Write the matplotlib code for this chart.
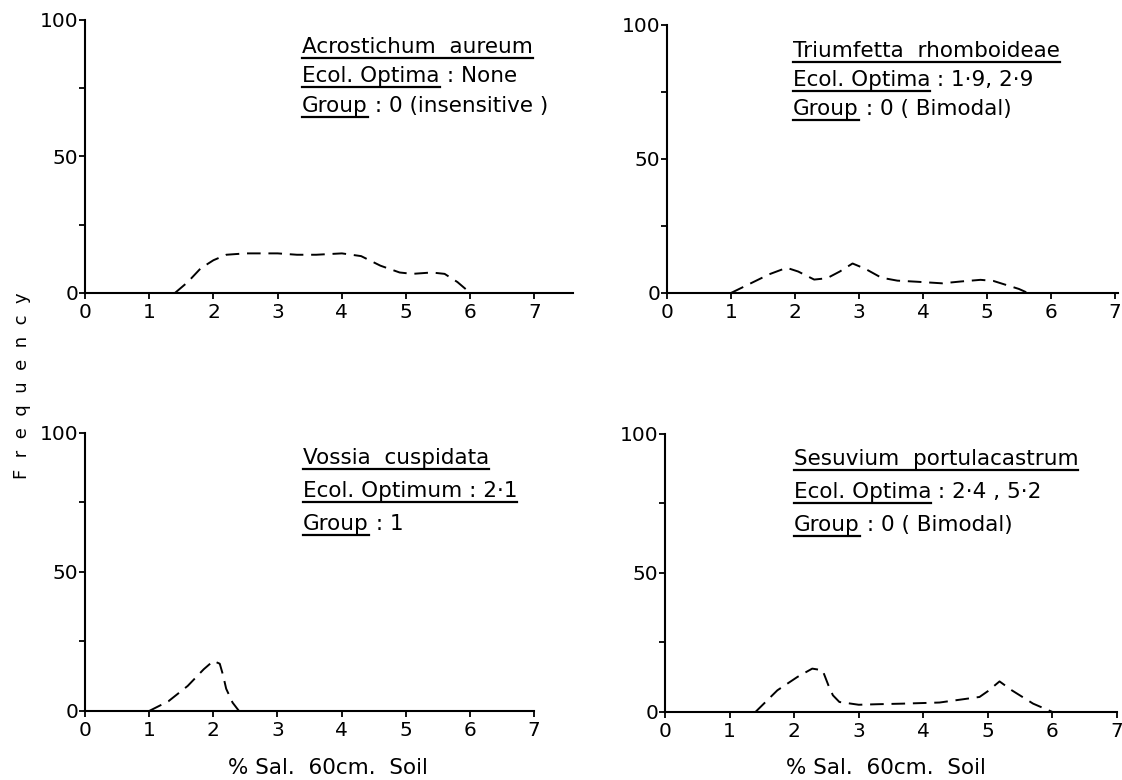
import matplotlib
matplotlib.use("Agg")
import matplotlib.pyplot as plt
from matplotlib.lines import Line2D

# Frequency vs % salinity of 60 cm soil, four species
acro_x = [1.4, 1.6, 1.8, 2.0, 2.2, 2.5, 2.8, 3.0, 3.3, 3.6, 4.0, 4.3, 4.6, 4.9, 5.1, 5.4, 5.6, 5.8, 5.95, 6.0]
acro_y = [0, 4, 9, 12, 14, 14.5, 14.5, 14.5, 14, 14, 14.5, 13.5, 10, 7.5, 7, 7.5, 7, 4, 1, 0]

trium_x = [1.0, 1.3, 1.6, 1.87, 2.05, 2.3, 2.5, 2.7, 2.9, 3.1, 3.35, 3.6, 3.9, 4.3, 4.6, 4.9, 5.1, 5.3, 5.5, 5.64]
trium_y = [0, 3.5, 7, 9.4, 8, 5, 5.5, 8, 11, 9, 5.7, 4.6, 4.2, 3.6, 4.3, 4.9, 4.5, 3, 1.5, 0]

vossia_x = [1.0, 1.3, 1.6, 1.85, 2.0, 2.1, 2.15, 2.2, 2.3, 2.4]
vossia_y = [0, 3.5, 9, 15, 18, 17, 13, 8, 3, 0]

sesu_x = [1.4, 1.74, 2.05, 2.28, 2.44, 2.53, 2.6, 2.7, 3.0, 3.3, 3.68, 4.25, 4.87, 5.0, 5.18, 5.37, 5.7, 6.0]
sesu_y = [0, 7.8, 12.6, 15.6, 15, 9.6, 6, 3.6, 2.6, 2.8, 3, 3.4, 5.4, 7.5, 11, 7.8, 3, 0]

x_ticks = [0, 1, 2, 3, 4, 5, 6, 7]
y_ticks = [0, 50, 100]
y_minor = [25, 75]

# (title, underlined part of line 2, rest of line 2, rest of line 3)
labels = [
    ("Acrostichum  aureum", "Ecol. Optima", " : None", " : 0 (insensitive )"),
    ("Triumfetta  rhomboideae", "Ecol. Optima", " : 1·9, 2·9", " : 0 ( Bimodal)"),
    ("Vossia  cuspidata", "Ecol. Optimum : 2·1", "", " : 1"),
    ("Sesuvium  portulacastrum", "Ecol. Optima", " : 2·4 , 5·2", " : 0 ( Bimodal)"),
]

plt.rcParams['font.family'] = ['DejaVu Sans']
FS = 15.5

fig = plt.figure(figsize=(11.22, 7.8), dpi=100)

rects = [
    [0.0758, 0.6244, 0.4349, 0.3500],
    [0.5945, 0.6244, 0.4020, 0.3436],
    [0.0758, 0.0885, 0.4002, 0.3564],
    [0.5927, 0.0872, 0.4029, 0.3564],
]
xmax = [7.6, 7.05, 7.0, 7.0]
series = [(acro_x, acro_y), (trium_x, trium_y), (vossia_x, vossia_y), (sesu_x, sesu_y)]
text_pos = [(0.445, 0.865, 0.108), (0.279, 0.865, 0.108), (0.485, 0.873, 0.118), (0.285, 0.873, 0.118)]

under = []
for i in range(4):
    ax = fig.add_axes(rects[i])
    xs, ys = series[i]
    ax.plot(xs, ys, color='black', lw=1.4, linestyle=(0, (7, 4)))
    ax.set_xlim(0, xmax[i])
    ax.set_ylim(0, 100)
    ax.set_xticks(x_ticks)
    ax.set_yticks(y_ticks)
    ax.set_yticks(y_minor, minor=True)
    ax.spines['top'].set_visible(False)
    ax.spines['right'].set_visible(False)
    ax.spines['left'].set_linewidth(1.5)
    ax.spines['bottom'].set_linewidth(1.5)
    ax.tick_params(which='both', direction='out', length=4, width=1.3, labelsize=14.5, pad=3)
    ax.tick_params(axis='y', pad=1)

    title, eco_u, eco_rest, grp_rest = labels[i]
    tx, ty, dy = text_pos[i]
    t1 = ax.text(tx, ty, title, transform=ax.transAxes, fontsize=FS, ha='left', va='bottom')
    t2 = ax.text(tx, ty - dy, eco_u, transform=ax.transAxes, fontsize=FS, ha='left', va='bottom')
    if eco_rest:
        ax.annotate(eco_rest, xy=(1, 0), xycoords=t2, fontsize=FS, ha='left', va='bottom')
    t3 = ax.text(tx, ty - 2 * dy, "Group", transform=ax.transAxes, fontsize=FS, ha='left', va='bottom')
    ax.annotate(grp_rest, xy=(1, 0), xycoords=t3, fontsize=FS, ha='left', va='bottom')
    under += [t1, t2, t3]

fig.text(0.0196, 0.506, "F  r  e  q  u  e  n  c  y", rotation=90, fontsize=13, ha='center', va='center')
fig.text(0.292, 0.016, "% Sal.  60cm.  Soil", fontsize=FS, ha='center', va='center')
fig.text(0.79, 0.016, "% Sal.  60cm.  Soil", fontsize=FS, ha='center', va='center')

# underline the marked texts
fig.canvas.draw()
r = fig.canvas.get_renderer()
inv = fig.transFigure.inverted()
for t in under:
    bb = t.get_window_extent(r)
    (x0, y0), (x1, y1) = inv.transform([[bb.x0, bb.y0 - 1], [bb.x1, bb.y0 - 1]])
    fig.add_artist(Line2D([x0, x1], [y0, y1], color='black', lw=1.6, transform=fig.transFigure))

fig.savefig("out.png", dpi=100)
